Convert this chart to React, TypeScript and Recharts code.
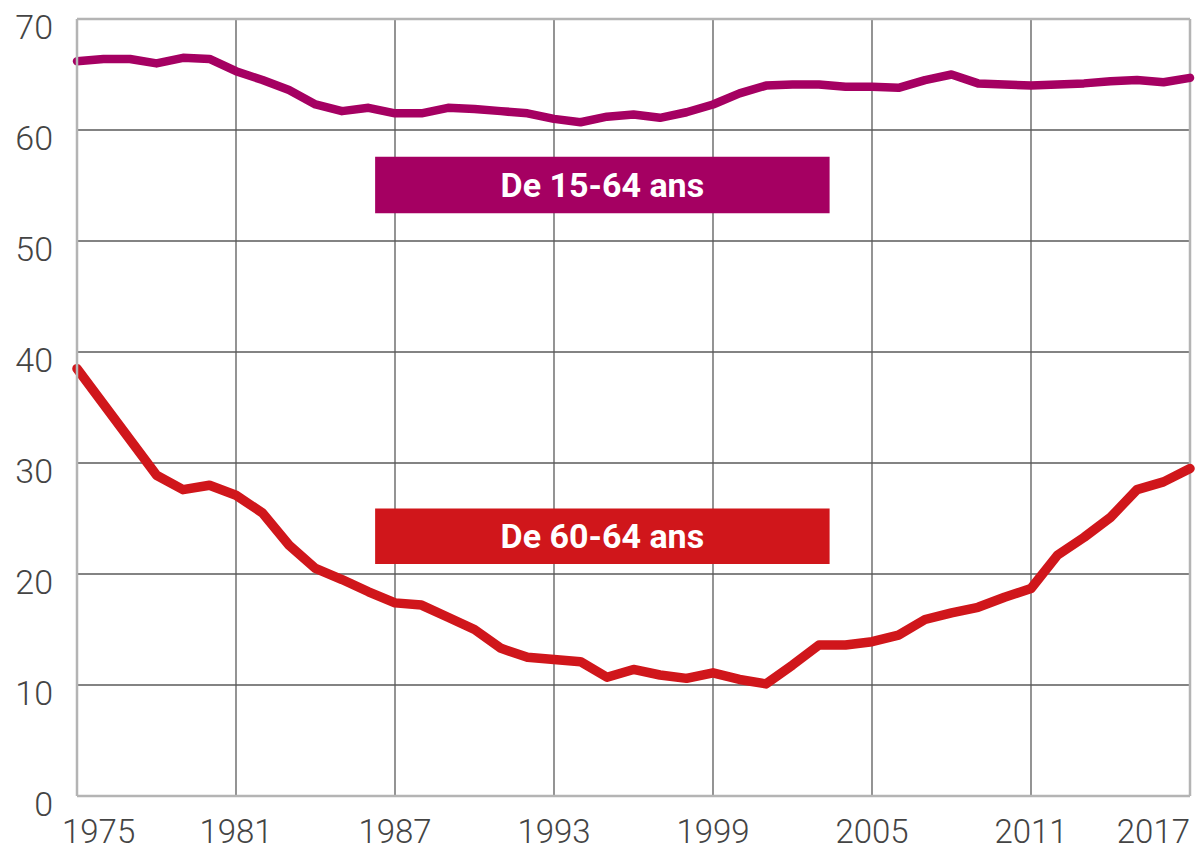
import React from 'react';
import { LineChart, Line, XAxis, YAxis, CartesianGrid, ReferenceArea, ReferenceLine } from 'recharts';

const years = [
  1975, 1976, 1977, 1978, 1979, 1980, 1981, 1982, 1983, 1984, 1985, 1986, 1987, 1988,
  1989, 1990, 1991, 1992, 1993, 1994, 1995, 1996, 1997, 1998, 1999, 2000, 2001, 2002,
  2003, 2004, 2005, 2006, 2007, 2008, 2009, 2010, 2011, 2012, 2013, 2014, 2015, 2016, 2017,
];

const age15to64 = [
  66.2, 66.4, 66.4, 66.0, 66.5, 66.4, 65.3, 64.5, 63.6, 62.3, 61.7, 62.0, 61.5, 61.5,
  62.0, 61.9, 61.7, 61.5, 61.0, 60.7, 61.2, 61.4, 61.1, 61.6, 62.3, 63.3, 64.0, 64.1,
  64.1, 63.9, 63.9, 63.8, 64.5, 65.0, 64.2, 64.1, 64.0, 64.1, 64.2, 64.4, 64.5, 64.3, 64.7,
];

const age60to64 = [
  38.5, 35.3, 32.1, 28.9, 27.6, 28.0, 27.1, 25.5, 22.6, 20.5, 19.5, 18.4, 17.4, 17.2,
  16.1, 15.0, 13.3, 12.5, 12.3, 12.1, 10.7, 11.4, 10.9, 10.6, 11.1, 10.5, 10.1, 11.8,
  13.6, 13.6, 13.9, 14.5, 15.9, 16.5, 17.0, 17.9, 18.7, 21.7, 23.3, 25.1, 27.6, 28.3, 29.5,
];

const xTicks = [1975, 1981, 1987, 1993, 1999, 2005, 2011, 2017];
const yTicks = [0, 10, 20, 30, 40, 50, 60, 70];

const labelBoxes = [
  { text: 'De 15-64 ans', x1: 1986.25, x2: 2003.4, y1: 52.5, y2: 57.6, color: '#A50062' },
  { text: 'De 60-64 ans', x1: 1986.25, x2: 2003.4, y1: 20.9, y2: 25.9, color: '#D0161B' },
];

const data = years.map((year, i) => ({ year, a: age15to64[i], b: age60to64[i] }));

const FONT = 'Roboto, "Liberation Sans", sans-serif';
const BORDER = '#b4b4b4';
const GRID = '#5a5a5a';

const XTick = (props: any) => {
  const { x, y, payload } = props;
  const v = payload.value;
  let anchor: 'start' | 'middle' | 'end' = 'middle';
  let tx = x;
  if (v === xTicks[0]) { anchor = 'start'; tx = x - 15; }
  if (v === xTicks[xTicks.length - 1]) { anchor = 'end'; tx = x; }
  return (
    <text x={tx} y={y + 47} textAnchor={anchor} fill="#444" fontSize={33} fontWeight={300} fontFamily={FONT}>
      {v}
    </text>
  );
};

const YTick = (props: any) => {
  const { x, y, payload } = props;
  return (
    <text x={x - 24} y={y + 20} textAnchor="end" fill="#444" fontSize={34} fontWeight={300} fontFamily={FONT}>
      {payload.value}
    </text>
  );
};

export default function App() {
  return (
    <div style={{ position: 'absolute', left: 0, top: 0, width: 1201, height: 852, background: '#fff' }}>
      <LineChart width={1201} height={852} data={data} margin={{ top: 19, right: 11, bottom: 0, left: 0 }}>
        <CartesianGrid stroke={GRID} strokeWidth={1.3} verticalValues={xTicks} horizontalValues={yTicks} />
        <XAxis
          dataKey="year"
          type="number"
          domain={[1975, 2017]}
          ticks={xTicks}
          height={56}
          tickSize={0}
          tickMargin={0}
          tickLine={false}
          axisLine={{ stroke: BORDER, strokeWidth: 2.5 }}
          tick={<XTick />}
          interval={0}
        />
        <YAxis
          type="number"
          domain={[0, 70]}
          ticks={yTicks}
          width={77}
          tickSize={0}
          tickMargin={0}
          tickLine={false}
          axisLine={{ stroke: BORDER, strokeWidth: 2.5 }}
          tick={<YTick />}
          interval={0}
        />
        <ReferenceLine y={70} stroke={BORDER} strokeWidth={2.5} />
        <ReferenceLine x={2017} stroke={BORDER} strokeWidth={2.5} />
        {labelBoxes.map((b) => (
          <ReferenceArea
            key={b.text}
            x1={b.x1}
            x2={b.x2}
            y1={b.y1}
            y2={b.y2}
            fill={b.color}
            fillOpacity={1}
            stroke="none"
            label={{ value: b.text, position: 'center', fill: '#ffffff', fontSize: 34, fontWeight: 700, fontFamily: FONT }}
          />
        ))}
        <Line dataKey="a" type="linear" stroke="#A50062" strokeWidth={8.5} dot={false} isAnimationActive={false} strokeLinejoin="round" strokeLinecap="round" />
        <Line dataKey="b" type="linear" stroke="#D0161B" strokeWidth={9.5} dot={false} isAnimationActive={false} strokeLinejoin="round" strokeLinecap="round" />
      </LineChart>
    </div>
  );
}
